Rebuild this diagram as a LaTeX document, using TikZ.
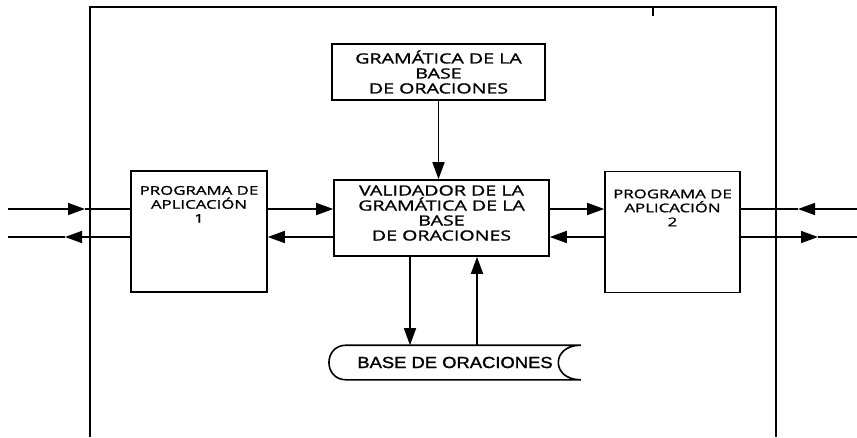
\documentclass[tikz,border=0pt]{standalone}
\usepackage{fontspec}
\usepackage{tikz}
\usetikzlibrary{positioning,arrows.meta}
\newfontfamily\cajafont[FakeStretch=1.4,FakeBold=1.2]{Open Sans}
\newfontfamily\basefont[FakeStretch=1.15,FakeBold=1.5]{Liberation Sans}

\begin{document}
\begin{tikzpicture}[x=1pt,y=-1pt,line width=1.6pt,
	caja/.style={draw,rectangle},
	texto/.style={align=center,font=\cajafont\fontsize{14}{15}\selectfont},
	textoprog/.style={align=center,anchor=north,font=\cajafont\fontsize{12}{14}\selectfont},
	flecha/.style={-{Triangle[length=17pt,width=12pt]}}]
			\tikzstyle{every node}+=[inner sep=0pt]
			\useasboundingbox (0,0) rectangle (857,437);
			\draw (90,437) -- (90,7) -- (776,7) -- (776,437);
			\draw (653,7) -- (653,16);
			\node [caja,texto,minimum width=213,minimum height=56] (gram) at (438.5,72) {GRAMÁTICA DE LA\\BASE\\DE ORACIONES};
			\node [caja,minimum width=215,minimum height=76] (valid) at (441.5,218) {};
			\node [texto] (validtxt) at ([yshift=5pt]valid.center) {VALIDADOR DE LA\\GRAMÁTICA DE LA\\BASE\\DE ORACIONES};
			\node [caja,minimum width=136,minimum height=121] (prog1) at (199,231.5) {};
			\node [textoprog] (prog1txt) at ([yshift=-15pt]prog1.north) {PROGRAMA DE\\APLICACIÓN\\1};
			\node [caja,minimum width=135,minimum height=121] (prog2) at (672.5,232) {};
			\node [textoprog] (prog2txt) at ([yshift=-18pt]prog2.north) {PROGRAMA DE\\APLICACIÓN\\2};
			\node [minimum width=250,minimum height=33,font=\basefont\fontsize{16}{18}\selectfont] (base) at (455,362.5) {BASE DE ORACIONES};
			\draw (base.north east) -- ([xshift=17pt]base.north west) .. controls ([xshift=-6pt]base.north west) and ([xshift=-6pt]base.south west) .. ([xshift=17pt]base.south west) -- (base.south east) .. controls ([xshift=-30pt]base.south east) and ([xshift=-30pt]base.north east) .. (base.north east);
			\coordinate (r1) at (0,209);
			\coordinate (r2) at (0,237);
			\coordinate (entA) at (8,209);
			\coordinate (puntaA) at (85,209);
			\coordinate (salA) at (8,237);
			\coordinate (puntaB) at (65,237);
			\coordinate (entC) at (857,209);
			\coordinate (puntaC) at (798,209);
			\coordinate (salC) at (857,237);
			\coordinate (puntaD) at (818,237);
			\draw [flecha] (entA) -- (puntaA);
			\draw (puntaA) -- (prog1.west |- r1);
			\draw [flecha] (prog1.west |- r2) -- (puntaB);
			\draw (puntaB) -- (salA);
			\draw [flecha] (prog1.east |- r1) -- (valid.west |- r1);
			\draw [flecha] (valid.west |- r2) -- (prog1.east |- r2);
			\draw [flecha] (valid.east |- r1) -- (prog2.west |- r1);
			\draw [flecha] (prog2.west |- r2) -- (valid.east |- r2);
			\draw [flecha] (entC) -- (puntaC);
			\draw (puntaC) -- (prog2.east |- r1);
			\draw [flecha] (prog2.east |- r2) -- (puntaD);
			\draw (puntaD) -- (salC);
			\draw [flecha] (gram.south) -- (gram.south |- valid.north);
			\draw [flecha] ([xshift=-31.5pt]valid.south) -- ([xshift=-31.5pt]valid.south |- base.north);
			\draw [flecha] ([xshift=35.5pt]valid.south |- base.north) -- ([xshift=35.5pt]valid.south);
\end{tikzpicture}
\end{document}
